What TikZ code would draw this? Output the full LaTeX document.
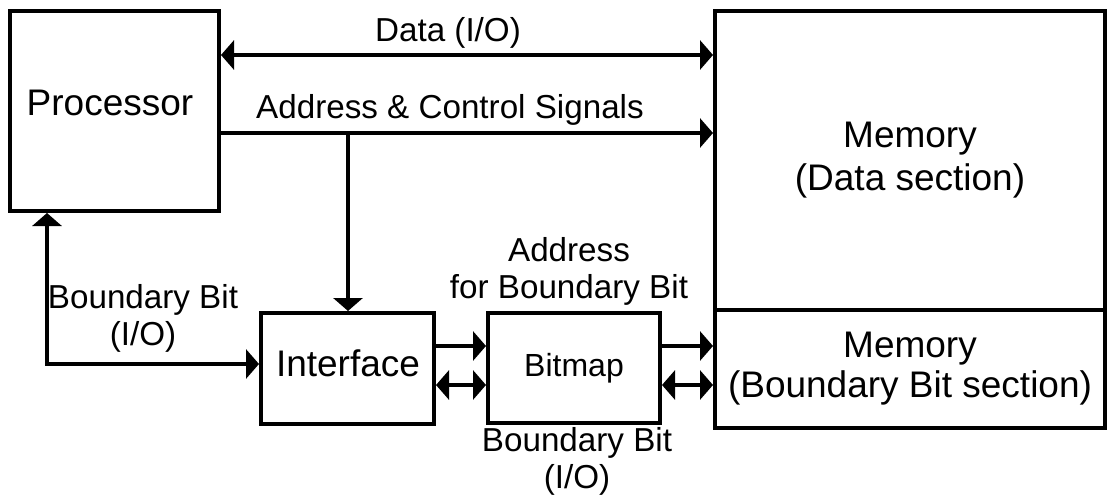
\documentclass[tikz,border=0pt]{standalone}
\usepackage{fontspec}
\setmainfont{Liberation Sans}
\usetikzlibrary{arrows.meta}

\tikzset{
  box/.style={draw, line width=4pt, inner sep=0pt, align=center,
              font=\fontsize{37}{43}\selectfont},
  big/.style={inner sep=0pt, align=center, font=\fontsize{37}{43}\selectfont},
  lbl/.style={inner sep=0pt, align=center, font=\fontsize{33.2}{37}\selectfont},
  wire/.style={line width=4pt},
  tip/.style={-{Triangle[length=13pt,width=29pt]}},
  dbl/.style={{Triangle[length=13pt,width=29pt]}-{Triangle[length=13pt,width=29pt]}}
}

\begin{document}
\begin{tikzpicture}[x=1pt,y=-1pt]
\useasboundingbox (0,0) rectangle (1107,500);

% blocks
\node[box, minimum width=209pt, minimum height=200pt] (proc) at (114.5,111) {};
\node[big] (proct) at (110,103) {Processor};
\node[box, minimum width=390pt, minimum height=299pt] (memd) at (910,160.5)
  {Memory\\(Data section)};
\node[box, minimum width=390pt, minimum height=118pt] (memb) at (910,369)
  {Memory\\[-3pt](Boundary Bit section)};
\node[box, minimum width=173pt, minimum height=111pt] (iface) at (347.5,368.5) {};
\node[big] (ifacet) at (348,363) {Interface};
\node[box, minimum width=172pt, minimum height=110pt,
      font=\fontsize{32}{37}\selectfont] (bmap) at (574,368) {Bitmap};

% anchor rows for the buses
\coordinate (ydata) at (0,55);
\coordinate (yaddr) at (0,133);
\coordinate (ybb) at (47,364);
\coordinate (yhi) at (0,346);
\coordinate (ylo) at (0,385);
\coordinate (tap) at (348,133);

% processor <-> memory buses
\draw[wire, dbl] (proc.east |- ydata) -- (memd.west |- ydata);
\draw[wire, tip] (proc.east |- yaddr) -- (memd.west |- yaddr);
\draw[wire, tip] (tap) -- (iface.north -| tap);

% boundary bit path processor <-> interface
\draw[wire, dbl] (proc.south -| ybb) |- (iface.west |- ybb);

% interface -> bitmap -> memory
\draw[wire, tip] (iface.east |- yhi) -- (bmap.west |- yhi);
\draw[wire, dbl] (iface.east |- ylo) -- (bmap.west |- ylo);
\draw[wire, tip] (bmap.east |- yhi) -- (memb.west |- yhi);
\draw[wire, dbl] (bmap.east |- ylo) -- (memb.west |- ylo);

% labels
\node[lbl] (ldata) at (448,33) {Data (I/O)};
\node[lbl] (laddr) at (450,110) {Address \& Control Signals};
\node[lbl] (lbb) at (143,318) {Boundary Bit\\(I/O)};
\node[lbl] (lafb) at (569,271) {Address\\for Boundary Bit};
\node[lbl] (lbbio) at (577,461) {Boundary Bit\\(I/O)};
\end{tikzpicture}
\end{document}
